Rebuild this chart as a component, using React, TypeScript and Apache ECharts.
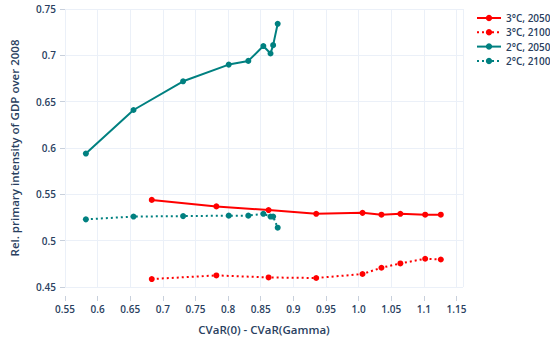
import React, { useEffect, useRef } from "react";
import * as echarts from "echarts";

const x2deg = [0.582, 0.655, 0.731, 0.801, 0.831, 0.854, 0.865, 0.869, 0.876];
const y2deg2050 = [0.594, 0.641, 0.672, 0.69, 0.694, 0.71, 0.702, 0.711, 0.734];
const y2deg2100 = [0.523, 0.526, 0.5265, 0.527, 0.527, 0.529, 0.526, 0.526, 0.514];

const x3deg = [0.683, 0.782, 0.862, 0.935, 1.006, 1.035, 1.064, 1.102, 1.126];
const y3deg2050 = [0.544, 0.537, 0.533, 0.529, 0.53, 0.528, 0.529, 0.528, 0.528];
const y3deg2100 = [0.4586, 0.4625, 0.4603, 0.4597, 0.464, 0.4708, 0.4754, 0.4805, 0.4797];

const seriesNames = ["3°C, 2050", "3°C, 2100", "2°C, 2050", "2°C, 2100"];
const RED = "#ff0000";
const TEAL = "#008080";

const zip = (xs: number[], ys: number[]) => xs.map((x, i) => [x, ys[i]]);

export default function App() {
  const ref = useRef<HTMLDivElement>(null);
  useEffect(() => {
    if (!ref.current) return;
    const chart = echarts.init(ref.current, undefined, { renderer: "svg" });
    const font = "'Open Sans', sans-serif";
    const txt = "#2a3f5f";
    const mk = (name: string, data: number[][], color: string, dotted: boolean) => ({
      name,
      type: "line",
      data,
      symbol: "circle",
      symbolSize: 6,
      showSymbol: true,
      lineStyle: { color, width: 2, type: dotted ? [2, 3] : "solid" },
      itemStyle: { color },
      emphasis: { disabled: true },
    });
    chart.setOption({
      animation: false,
      backgroundColor: "#ffffff",
      textStyle: { fontFamily: font },
      grid: { left: 62, right: 87, top: 9, bottom: 55, containLabel: false },
      legend: {
        orient: "vertical",
        left: 471,
        top: 8,
        itemWidth: 24,
        itemHeight: 8,
        itemGap: 4.3,
        textStyle: { fontFamily: font, fontSize: 10, color: txt, fontWeight: 600 },
        data: seriesNames,
      },
      xAxis: {
        type: "value",
        min: 0.55,
        max: 1.16,
        interval: 0.05,
        offset: 9,
        name: "CVaR(0) - CVaR(Gamma)",
        nameLocation: "middle",
        nameGap: 27,
        nameTextStyle: { fontFamily: font, fontSize: 11.5, color: txt, fontWeight: 600 },
        axisLine: { show: false },
        axisTick: { show: true, length: 5, lineStyle: { color: "#c8d0dc" } },
        axisLabel: {
          fontFamily: font,
          fontSize: 10,
          color: txt,
          fontWeight: 600,
          margin: 8,
          showMaxLabel: false,
          formatter: (v: number) => {
            const r = Math.round(v * 100) / 100;
            if (Math.abs(r - 1.16) < 1e-6) return "";
            return String(r).replace(/^1$/, "1.0");
          },
        },
        splitLine: { show: true, lineStyle: { color: "#ebf0f8", width: 1 } },
      },
      yAxis: {
        type: "value",
        min: 0.45,
        max: 0.75,
        interval: 0.05,
        name: "Rel. primary intensity of GDP over 2008",
        nameLocation: "middle",
        nameGap: 45,
        nameTextStyle: { fontFamily: font, fontSize: 11.5, color: txt, fontWeight: 600 },
        axisLine: { show: false },
        axisTick: { show: true, length: 5, lineStyle: { color: "#c8d0dc" } },
        axisLabel: {
          fontFamily: font,
          fontSize: 10,
          color: txt,
          fontWeight: 600,
          margin: 9,
          formatter: (v: number) => String(Math.round(v * 100) / 100),
        },
        splitLine: { show: true, lineStyle: { color: "#ebf0f8", width: 1 } },
      },
      series: [
        mk(seriesNames[0], zip(x3deg, y3deg2050), RED, false),
        mk(seriesNames[1], zip(x3deg, y3deg2100), RED, true),
        mk(seriesNames[2], zip(x2deg, y2deg2050), TEAL, false),
        mk(seriesNames[3], zip(x2deg, y2deg2100), TEAL, true),
      ],
    });
    return () => chart.dispose();
  }, []);
  return <div ref={ref} style={{ width: 550, height: 342, position: "absolute", left: 0, top: 0 }} />;
}
